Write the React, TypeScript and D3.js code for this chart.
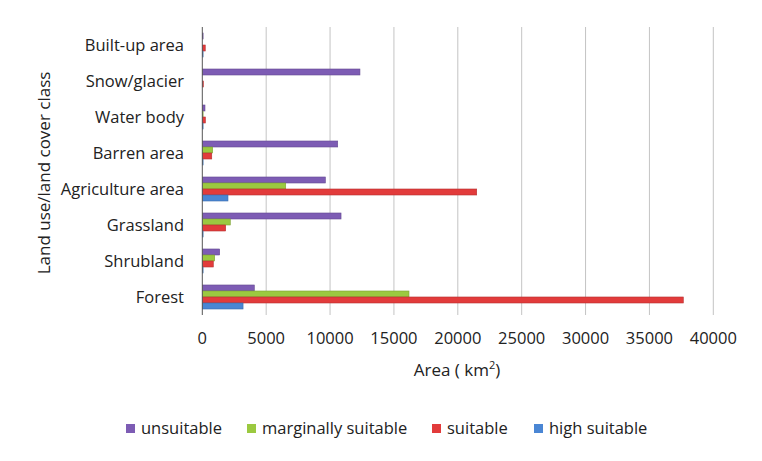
import React from "react";
import * as d3 from "d3";

const categories = [
  "Built-up area",
  "Snow/glacier",
  "Water body",
  "Barren area",
  "Agriculture area",
  "Grassland",
  "Shrubland",
  "Forest",
];
const seriesNames = ["unsuitable", "marginally suitable", "suitable", "high suitable"];
const seriesColors = ["#7d5cb4", "#9bc940", "#e23b3b", "#4a86d4"];
const unsuitable = [40, 12340, 210, 10600, 9630, 10860, 1360, 4070];
const marginallySuitable = [0, 0, 40, 810, 6530, 2190, 970, 16180];
const suitable = [230, 80, 240, 740, 21480, 1830, 860, 37650];
const highSuitable = [40, 0, 60, 30, 2010, 30, 30, 3190];
const xTicks = [0, 5000, 10000, 15000, 20000, 25000, 30000, 35000, 40000];

const W = 762;
const H = 461;
const left = 202.3;
const right = 713.3;
const top = 27;
const bottom = 315;
const FONT = "'Open Sans', sans-serif";

export default function App() {
  const x = d3.scaleLinear().domain([0, 40000]).range([left, right]);
  const y = d3.scaleBand<string>().domain(categories).range([top, bottom]).paddingInner(0.333).paddingOuter(0.1667);
  const series = [unsuitable, marginallySuitable, suitable, highSuitable];
  const sub = d3.scaleBand<number>().domain([0, 1, 2, 3]).range([0, y.bandwidth()]);

  const legendX = [126, 247, 432, 534];

  return (
    <svg width={W} height={H} style={{ position: "absolute", left: 0, top: 0, background: "#fff" }}>
      <rect x={0} y={0} width={W} height={H} fill="#fff" />
      {xTicks.map((t) => (
        <g key={t}>
          {t !== 0 && <line x1={x(t)} x2={x(t)} y1={top} y2={bottom} stroke="#c4c4c4" strokeWidth={1} />}
          <text x={x(t)} y={338} dy="0.35em" textAnchor="middle" fontFamily={FONT} fontSize={16.5} fill="#222">
            {t}
          </text>
        </g>
      ))}
      {categories.map((c, i) =>
        series.map((s, j) => {
          const v = s[i];
          if (v <= 0) return null;
          const y0 = (y(c) as number) + (sub(j) as number);
          return (
            <rect
              key={c + j}
              x={x(0)}
              y={y0}
              width={Math.max(x(v) - x(0), 0.8)}
              height={sub.bandwidth()}
              fill={seriesColors[j]}
              stroke={d3.color(seriesColors[j])!.darker(0.6).toString()}
              strokeWidth={0.6}
            />
          );
        })
      )}
      <line x1={x(0)} x2={x(0)} y1={top} y2={bottom} stroke="#555" strokeWidth={1} />
      {categories.map((c) => (
        <text
          key={c}
          x={184}
          y={(y(c) as number) + y.bandwidth() / 2}
          dy="0.35em"
          textAnchor="end"
          fontFamily={FONT}
          fontSize={16.5}
          fill="#222"
        >
          {c}
        </text>
      ))}
      <text
        transform={`translate(44,173) rotate(-90)`}
        dy="0.35em"
        textAnchor="middle"
        fontFamily={FONT}
        fontSize={17}
        fill="#222"
      >
        Land use/land cover class
      </text>
      <text x={457} y={370} dy="0.35em" textAnchor="middle" fontFamily={FONT} fontSize={17} fill="#222">
        Area ( km<tspan dy={-7} fontSize={11}>2</tspan>
        <tspan dy={7}>)</tspan>
      </text>
      {seriesNames.map((n, i) => (
        <g key={n}>
          <rect x={legendX[i]} y={424} width={9} height={9} fill={seriesColors[i]} />
          <text x={legendX[i] + 15} y={428} dy="0.35em" fontFamily={FONT} fontSize={16.5} fill="#222">
            {n}
          </text>
        </g>
      ))}
    </svg>
  );
}
